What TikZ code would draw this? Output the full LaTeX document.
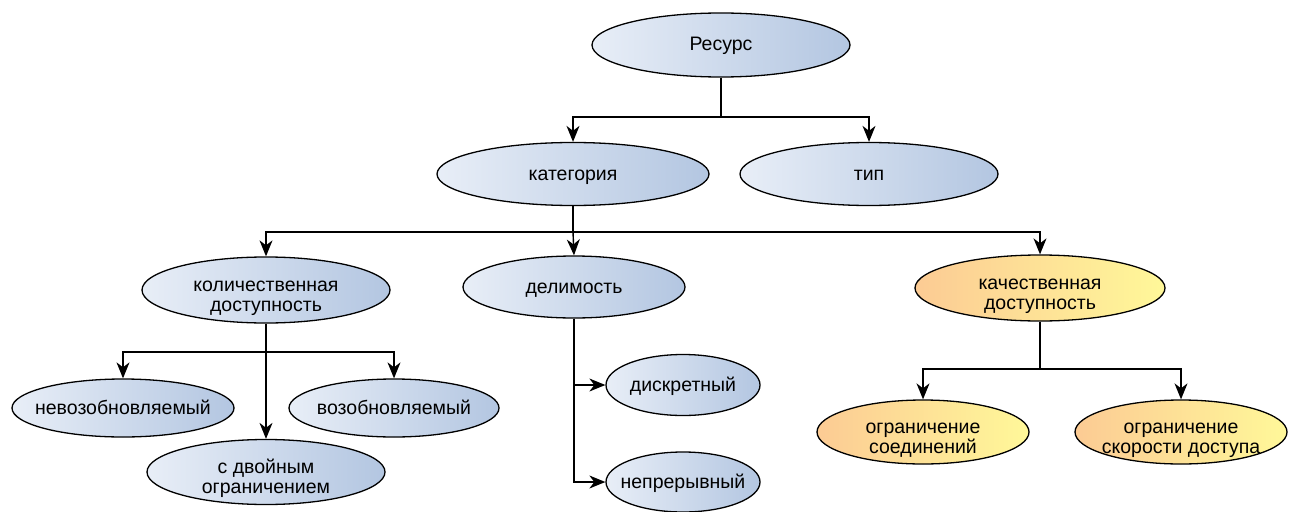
\documentclass[tikz,border=0pt]{standalone}
\usepackage{fontspec}
\setmainfont{Liberation Sans}
\usetikzlibrary{shapes.geometric,arrows.meta}
\definecolor{blueL}{HTML}{E8EEF7}
\definecolor{blueR}{HTML}{B3C6E1}
\definecolor{orL}{HTML}{FCCB94}
\definecolor{orR}{HTML}{FFF899}
\begin{document}
\begin{tikzpicture}[x=1pt,y=-1pt,
  oval/.style args={#1/#2}{ellipse, draw=black, line width=1.3pt,
    minimum width=#1pt, minimum height=#2pt, inner xsep=-25pt, inner ysep=-20pt,
    align=center, font=\fontsize{19.5}{20.5}\selectfont,
    text height=16pt, text depth=4pt},
  twoline/.style={text height=47pt, text depth=4pt},
  bluefill/.style={left color=blueL, right color=blueR},
  orangefill/.style={left color=orL, right color=orR},
  link/.style={line width=1.4pt, -{Stealth[length=16pt,width=13pt,inset=5pt]}},
  trunk/.style={line width=1.4pt}]
\useasboundingbox (0,0) rectangle (1289,511);

% top level
\node[oval=258/64, bluefill] (res) at (721,45) {Ресурс};
\node[oval=272/63, bluefill] (cat) at (573,174) {категория};
\node[oval=258/63, bluefill] (tip) at (869,174) {тип};

% category branches
\node[oval=248/66, bluefill, twoline] (kol) at (266,290) {количественная\\доступность};
\node[oval=222/62, bluefill] (del) at (574,287) {делимость};
\node[oval=250/66, orangefill, twoline] (kach) at (1040,288) {качественная\\доступность};

% quantitative availability
\node[oval=222/58, bluefill] (nevoz) at (123,408) {невозобновляемый};
\node[oval=210/58, bluefill] (voz) at (394,408) {возобновляемый};
\node[oval=238/65, bluefill, twoline] (dvoj) at (266,472) {с двойным\\ограничением};

% divisibility
\node[oval=154/61, bluefill] (disk) at (683,385) {дискретный};
\node[oval=154/60, bluefill] (nepr) at (683,482) {непрерывный};

% qualitative availability
\node[oval=212/64, orangefill, twoline] (soed) at (923,432) {ограничение\\соединений};
\node[oval=212/64, orangefill, twoline] (skor) at (1181,432) {ограничение\\скорости доступа};

% junction points
\coordinate (j1) at (721,117);
\coordinate (j2) at (573,232);
\coordinate (j3) at (266,352);
\coordinate (j4) at (1040,369);

\draw[trunk] (res.south) -- (j1);
\draw[link] (j1) -| (cat.north);
\draw[link] (j1) -| (tip.north);

\draw[trunk] (cat.south) -- (j2);
\draw[link] (j2) -| (kol.north);
\draw[link] (j2) -- (del.north);
\draw[link] (j2) -| (kach.north);

\draw[link] (kol.south) -- (dvoj.north);
\draw[link] (j3) -| (nevoz.north);
\draw[link] (j3) -| (voz.north);

\draw[link] (del.south) |- (disk.west);
\draw[link] (del.south) |- (nepr.west);

\draw[trunk] (kach.south) -- (j4);
\draw[link] (j4) -| (soed.north);
\draw[link] (j4) -| (skor.north);
\end{tikzpicture}
\end{document}
